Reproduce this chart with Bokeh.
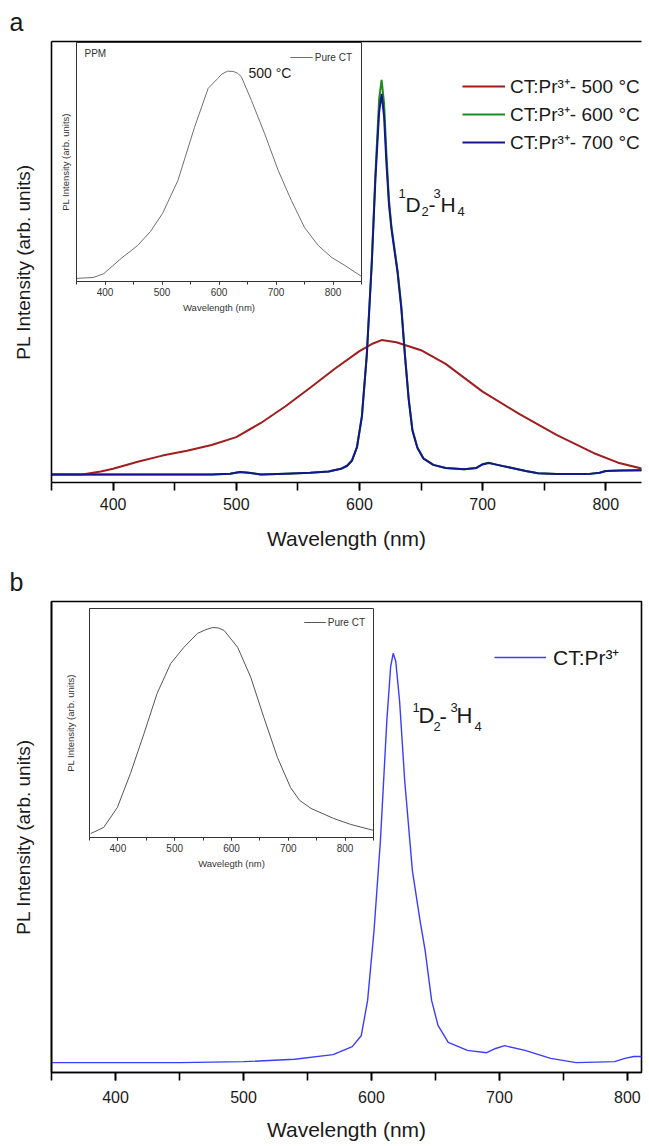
from bokeh.plotting import figure
from bokeh.models import (Range1d, Legend, LegendItem, Label, FixedTicker,
                          SingleIntervalTicker, LinearAxis, GridBox, Column)
from bokeh.embed import file_html
from bokeh.resources import INLINE

FONT = "Liberation Sans"

# ---------------- data ----------------
# Panel a, CT:Pr3+ annealed at 500 C (broad band)
wl_a_500 = [350, 375, 390, 400, 420, 440, 460, 480, 500, 520, 540, 560, 580,
            600, 610, 618, 630, 650, 670, 700, 730, 760, 790, 810, 830]
pl_a_500 = [18, 18, 25, 31, 47, 61, 72, 85, 103, 135, 173, 215, 258,
            298, 314, 323, 318, 300, 269, 206, 155, 108, 67, 45, 31]

# Panel a, CT:Pr3+ annealed at 600 C and 700 C (sharp 1D2-3H4 line)
wl_a_sharp = [350, 400, 450, 480, 495, 503, 510, 520, 540, 560, 575, 585, 590,
              594, 598, 602, 606, 610, 613, 616, 618, 620, 622, 624, 626, 628,
              631, 634, 637, 640, 643, 647, 652, 660, 670, 685, 695, 700, 705,
              712, 722, 735, 745, 760, 785, 795, 800, 812, 830]
pl_a_600 = [18, 18, 18, 18, 20, 24, 22, 18, 20, 22, 25, 31, 38,
            50, 80, 150, 290, 500, 700, 870, 913, 860, 740, 640, 580, 540,
            480, 400, 290, 190, 120, 80, 55, 40, 33, 30, 33, 42, 45,
            40, 34, 26, 21, 19, 19, 22, 26, 27, 28]
pl_a_700 = [18, 18, 18, 18, 20, 24, 22, 18, 20, 22, 25, 31, 38,
            50, 80, 150, 290, 495, 690, 840, 881, 830, 720, 630, 575, 535,
            475, 395, 285, 188, 118, 79, 54, 40, 33, 30, 33, 41, 44,
            40, 34, 26, 21, 19, 19, 22, 26, 27, 28]

# Inset a, pure CT (PPM, 500 C)
wl_inset_a = [350, 380, 398, 428, 457, 480, 501, 528, 557, 581, 598, 605, 615,
              625, 632, 639, 657, 680, 704, 727, 750, 774, 798, 821, 850]
pl_inset_a = [13, 17, 33, 96, 150, 210, 285, 423, 645, 808, 850, 868, 880,
              879, 872, 858, 757, 619, 464, 339, 226, 151, 100, 67, 21]

# Panel b, CT:Pr3+
wl_b = [350, 450, 500, 540, 570, 585, 592, 597, 602, 607, 612, 615, 617, 619,
        622, 626, 632, 638, 642, 647, 652, 660, 675, 690, 697, 704, 720, 740,
        760, 790, 798, 805, 812]
pl_b = [21, 21, 23, 28, 38, 55, 78, 153, 301, 492, 746, 862, 890, 873,
        788, 619, 428, 322, 258, 153, 100, 64, 47, 42, 51, 57, 47, 30,
        21, 23, 30, 34, 34]

# Inset b, pure CT
wl_inset_b = [352, 375, 399, 422, 446, 469, 493, 516, 540, 555, 567, 577, 587,
              611, 634, 657, 681, 704, 720, 740, 780, 810, 850]
pl_inset_b = [17, 44, 131, 279, 454, 629, 760, 830, 891, 908, 917, 915, 904,
              830, 699, 524, 349, 218, 162, 127, 83, 57, 31]

legend_a = ["CT:Pr\u00b3\u207a- 500 \u00b0C", "CT:Pr\u00b3\u207a- 600 \u00b0C",
            "CT:Pr\u00b3\u207a- 700 \u00b0C"]
legend_b = "CT:Pr\u00b3\u207a"
x_label = "Wavelength (nm)"
y_label = "PL Intensity (arb. units)"

RED, GREEN, NAVY, BLUE, GREY = "#a01e1e", "#1e8c1e", "#16168c", "#3c3cff", "#707070"


def style_main(p, frame_outline, letter):
    p.grid.visible = False
    p.background_fill_color = "white"
    p.border_fill_color = "white"
    xa = p.xaxis[0]
    xa.ticker = SingleIntervalTicker(interval=100, num_minor_ticks=2)
    for a in (p.xaxis[0], p.yaxis[0]):
        a.axis_line_color = "black"
        a.axis_line_width = 1.6
        a.major_tick_line_color = "black"
        a.minor_tick_line_color = "black"
        a.major_tick_line_width = 1.6
        a.minor_tick_line_width = 1.6
        a.major_tick_in = 0
        a.minor_tick_in = 0
        a.major_tick_out = 8
        a.minor_tick_out = 8
        a.major_label_text_font = FONT
        a.major_label_text_font_size = "16px"
        a.major_label_text_color = "#1a1a1a"
        a.axis_label_text_font = FONT
        a.axis_label_text_font_style = "normal"
        a.axis_label_text_color = "#1a1a1a"
        a.axis_label_text_font_size = "21px"
    xa.major_label_standoff = 7
    xa.axis_label = x_label
    xa.axis_label_standoff = 14
    ya = p.yaxis[0]
    ya.ticker = FixedTicker(ticks=[])
    ya.major_tick_out = 0
    ya.minor_tick_out = 0
    ya.axis_label = y_label
    ya.axis_label_standoff = 18
    ya.axis_label_text_font_size = "19px"
    if frame_outline:
        p.outline_line_color = "black"
        p.outline_line_width = 1.6
    else:
        p.outline_line_color = None
        top = LinearAxis(ticker=FixedTicker(ticks=[]), axis_line_width=1.6,
                         axis_line_color="black", major_tick_out=0, minor_tick_out=0,
                         major_label_text_font_size="0px")
        p.add_layout(top, "above")
    p.title.text = letter
    p.title.text_font = FONT
    p.title.text_font_size = "25px"
    p.title.text_font_style = "normal"
    p.title.text_color = "#1a1a1a"
    p.title.align = "left"
    p.title.offset = -42
    p.title.standoff = 11


def style_inset(p, ylab_standoff, xlabel_text):
    p.grid.visible = False
    p.background_fill_color = "white"
    p.border_fill_alpha = 0
    p.outline_line_color = "#333333"
    p.outline_line_width = 1
    xa = p.xaxis[0]
    ya = p.yaxis[0]
    xa.ticker = SingleIntervalTicker(interval=100, num_minor_ticks=2)
    for a in (xa, ya):
        a.axis_line_color = "#333333"
        a.axis_line_width = 1
        a.major_tick_line_color = "#333333"
        a.minor_tick_line_color = "#333333"
        a.major_tick_in = 0
        a.minor_tick_in = 0
        a.major_tick_out = 3
        a.minor_tick_out = 3
        a.major_label_text_font = FONT
        a.major_label_text_font_size = "10px"
        a.major_label_text_color = "#333333"
        a.axis_label_text_font = FONT
        a.axis_label_text_font_style = "normal"
        a.axis_label_text_color = "#333333"
        a.axis_label_text_font_size = "9.5px"
    xa.major_label_standoff = 3
    xa.axis_label = xlabel_text
    xa.axis_label_standoff = 3
    ya.ticker = FixedTicker(ticks=[])
    ya.major_tick_out = 0
    ya.minor_tick_out = 0
    ya.axis_label = y_label
    ya.axis_label_standoff = ylab_standoff


def add_term(p, pieces, big, small):
    # pieces: (text, x, y, kind) in frame screen px (origin bottom-left)
    for t, x, y, kind in pieces:
        p.add_layout(Label(x=x, y=y, x_units="screen", y_units="screen", text=t,
                           text_font=FONT, text_color="#1a1a1a",
                           text_font_size=big if kind == "big" else small,
                           text_align="left", text_baseline="middle"))


# ---------------- panel a ----------------
pa = figure(width=649, height=560, x_range=Range1d(350, 829), y_range=Range1d(0, 1000),
            toolbar_location=None, output_backend="svg",
            min_border_left=51, min_border_right=0, min_border_top=36, min_border_bottom=78)
style_main(pa, frame_outline=False, letter="a")
ra = pa.line(wl_a_500, pl_a_500, line_color=RED, line_width=2)
rg = pa.line(wl_a_sharp, pl_a_600, line_color=GREEN, line_width=2)
rb = pa.line(wl_a_sharp, pl_a_700, line_color=NAVY, line_width=2)
leg_a = Legend(items=[LegendItem(label=legend_a[0], renderers=[ra]),
                      LegendItem(label=legend_a[1], renderers=[rg]),
                      LegendItem(label=legend_a[2], renderers=[rb])],
               location=(411, 327), orientation="vertical",
               label_text_font=FONT, label_text_font_size="19px", label_text_color="#1a1a1a",
               glyph_width=43, glyph_height=20, label_height=20, label_standoff=5,
               spacing=2, padding=0, margin=0,
               border_line_alpha=0, background_fill_alpha=0)
pa.add_layout(leg_a)
add_term(pa, [("1", 347, 289, "s"), ("D", 354, 278, "big"), ("2", 370, 271, "s"),
              ("-", 377, 278, "big"), ("3", 382, 289, "s"), ("H", 389, 278, "big"),
              ("4", 406, 271, "s")], "21px", "13px")

# inset a
ia = figure(width=309, height=276, x_range=Range1d(350, 850), y_range=Range1d(0, 1000),
            toolbar_location=None, output_backend="svg",
            min_border_left=22, min_border_right=2, min_border_top=1, min_border_bottom=36)
style_inset(ia, 6, x_label)
ri_a = ia.line(wl_inset_a, pl_inset_a, line_color=GREY, line_width=1)
ia.add_layout(Legend(items=[LegendItem(label="Pure CT", renderers=[ri_a])],
                     location="top_right", margin=9, padding=0,
                     label_text_font=FONT, label_text_font_size="10px",
                     label_text_color="#333333", glyph_width=23, glyph_height=12,
                     label_height=12, label_standoff=2,
                     border_line_alpha=0, background_fill_alpha=0))
ia.add_layout(Label(x=8, y=228, x_units="screen", y_units="screen", text="PPM",
                    text_font=FONT, text_font_size="10px", text_color="#333333",
                    text_align="left", text_baseline="middle"))
ia.add_layout(Label(x=172, y=209, x_units="screen", y_units="screen", text="500 \u00b0C",
                    text_font=FONT, text_font_size="14px", text_color="#1a1a1a",
                    text_align="left", text_baseline="middle"))
wrap_a = Column(children=[ia], width=309, height=276,
                styles={"position": "absolute", "left": "54px", "top": "41px"})

# ---------------- panel b ----------------
pb = figure(width=649, height=586, x_range=Range1d(350, 811), y_range=Range1d(0, 1000),
            toolbar_location=None, output_backend="svg",
            min_border_left=51, min_border_right=8, min_border_top=40, min_border_bottom=74)
style_main(pb, frame_outline=True, letter="b")
pb.xaxis[0].axis_label_standoff = 12
pb.xaxis[0].major_label_standoff = 10
r_b = pb.line(wl_b, pl_b, line_color=BLUE, line_width=1.4)
pb.add_layout(Legend(items=[LegendItem(label=legend_b, renderers=[r_b])],
                     location=(443, 401), label_text_font=FONT, label_text_font_size="21px",
                     label_text_color="#1a1a1a", glyph_width=52, glyph_height=24,
                     label_height=24, label_standoff=7, padding=0, margin=0,
                     border_line_alpha=0, background_fill_alpha=0))
add_term(pb, [("1", 361, 365, "s"), ("D", 367, 357, "big"), ("2", 382, 346, "s"),
              ("-", 388, 356, "big"), ("3", 399, 365, "s"), ("H", 405, 357, "big"),
              ("4", 423, 346, "s")], "22px", "13px")

# inset b
ib = figure(width=316, height=266, x_range=Range1d(350, 850), y_range=Range1d(0, 1000),
            toolbar_location=None, output_backend="svg",
            min_border_left=30, min_border_right=2, min_border_top=1, min_border_bottom=36)
style_inset(ib, 14, "Wavelegth (nm)")
ri_b = ib.line(wl_inset_b, pl_inset_b, line_color="#555555", line_width=1)
ib.add_layout(Legend(items=[LegendItem(label="Pure CT", renderers=[ri_b])],
                     location="top_right", margin=8, padding=0,
                     label_text_font=FONT, label_text_font_size="10px",
                     label_text_color="#333333", glyph_width=22, glyph_height=12,
                     label_height=12, label_standoff=2,
                     border_line_alpha=0, background_fill_alpha=0))
# absolutely positioned inside the grid area of row 1 (which starts at y = 560)
wrap_b = Column(children=[ib], width=316, height=266,
                styles={"position": "absolute", "left": "59px", "top": "47px"})

layout = GridBox(children=[(pa, 0, 0), (pb, 1, 0), (wrap_a, 0, 0), (wrap_b, 1, 0)])

open("out.html", "w").write(file_html(layout, INLINE))
